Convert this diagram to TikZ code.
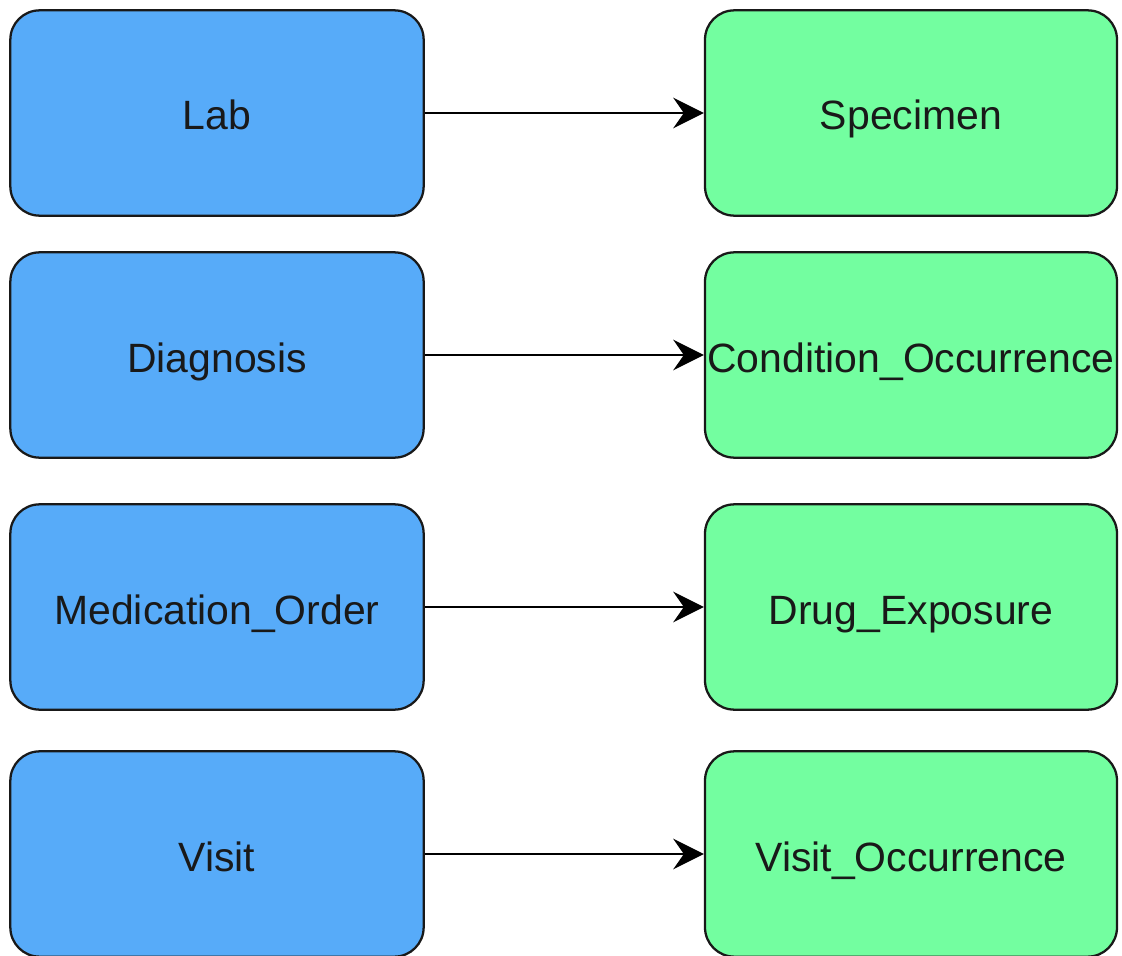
\documentclass[tikz,border=0pt]{standalone}
\usepackage{fontspec}
\setmainfont{Liberation Sans}
\usetikzlibrary{arrows.meta}
\usetikzlibrary{scopes}
\definecolor{srcblue}{HTML}{57ABF9}
\definecolor{omopgreen}{HTML}{73FEA0}

\begin{document}
\begin{tikzpicture}
      [
      x=0.75pt, y=-0.75pt,
      every node/.style={font=\fontsize{30.7}{36}\selectfont, text=black!90},
      box/.style={draw=black!90, line width=1.7pt, rounded corners=22pt, inner sep=0pt,
        minimum height=154pt, text height=30pt, text depth=4.5pt},
      src/.style={box, fill=srcblue, minimum width=310pt},
      omop/.style={box, fill=omopgreen, minimum width=309pt},
      map/.style={-{Stealth[length=23pt,width=23pt,inset=8pt]}, line width=1.8pt, draw=black},
      ]
      \useasboundingbox (0,0) rectangle (1122,956);
      % source tables (left)
      \node[src] (lab) at (217,113) {Lab};
      \node[src] (diag) at (217,355) {Diagnosis};
      \node[src] (med) at (217,607) {Medication\_Order};
      \node[src] (visit) at (217,854) {Visit};
      % target tables (right)
      \node[omop] (spec) at (911,113) {Specimen};
      \node[omop] (cond) at (911,355) {Condition\_Occurrence};
      \node[omop] (drug) at (911,607) {Drug\_Exposure};
      \node[omop] (vocc) at (911,854) {Visit\_Occurrence};
      {[map]
        \draw (lab) -- (spec);
        \draw (diag) -- (cond);
        \draw (med) -- (drug);
        \draw (visit) -- (vocc);
      }
    \end{tikzpicture}
\end{document}
